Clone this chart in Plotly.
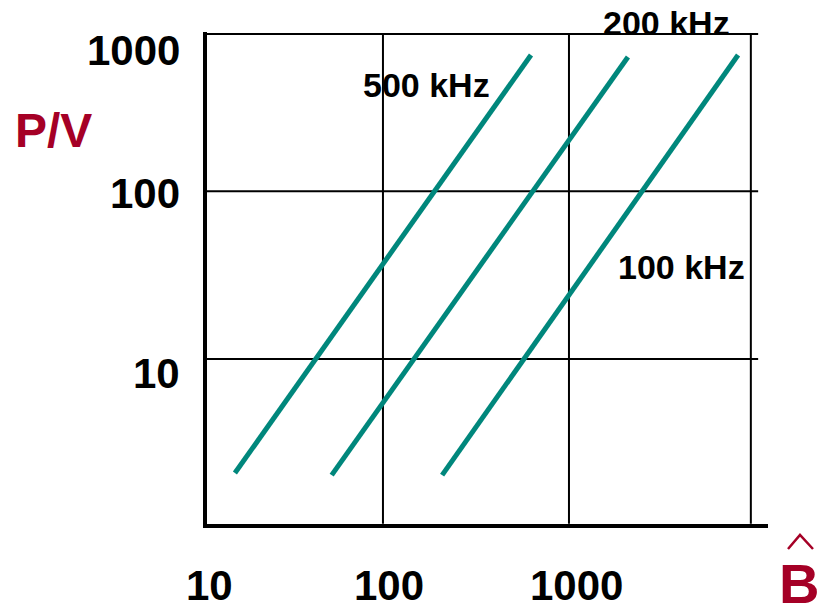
import plotly.graph_objects as go

# ---- data ----
SERIES_NAMES = ["500 kHz", "200 kHz", "100 kHz"]
B_500 = [16, 625]
PV_500 = [2.09, 650]
B_200 = [53, 2075]
PV_200 = [2.03, 632]
B_100 = [208, 8110]
PV_100 = [2.03, 650]

X_TICK_LABELS = ["10", "100", "1000"]
Y_TICK_LABELS = ["1000", "100", "10"]
X_GRID = [100, 1000, 9500]
Y_GRID = [10, 100, 867]
X_AXIS_TITLE = "B"
Y_AXIS_TITLE = "P/V"

TEAL = "#00877C"
RED = "#A50026"
FONT = "Liberation Sans, Arial, sans-serif"

W, H = 819, 607
L, R, T, B = 207, 51, 32, 83
PW, PH = W - L - R, H - T - B


def px(x, y):
    return (x - L) / PW, (H - B - y) / PH


fig = go.Figure()

# grid lines
gx, gy = [], []
for v in X_GRID:
    gx += [v, v, None]
    gy += [1.04, 867, None]
for v in Y_GRID:
    gx += [10.6, 10400, None]
    gy += [v, v, None]
fig.add_trace(go.Scatter(x=gx, y=gy, mode="lines",
                         line=dict(color="black", width=2),
                         hoverinfo="skip", showlegend=False))

for name, xs, ys in [(SERIES_NAMES[0], B_500, PV_500),
                     (SERIES_NAMES[1], B_200, PV_200),
                     (SERIES_NAMES[2], B_100, PV_100)]:
    fig.add_trace(go.Scatter(x=xs, y=ys, mode="lines", name=name,
                             line=dict(color=TEAL, width=5),
                             showlegend=False))

ann = []


def add_text(text, x, y, size, color="black", xanchor="center", weight="bold"):
    xp, yp = px(x, y)
    ann.append(dict(text=text, x=xp, y=yp, xref="paper", yref="paper",
                    xanchor=xanchor, yanchor="middle", showarrow=False,
                    font=dict(family=FONT, size=size, color=color, weight=weight)))


# x tick labels
for t, cx in zip(X_TICK_LABELS, [209, 389, 576]):
    add_text(t, cx, 585, 42)
# y tick labels
for t, cy in zip(Y_TICK_LABELS, [51, 193, 373]):
    add_text(t, 182, cy, 42, xanchor="right")

# series labels
add_text(SERIES_NAMES[0], 426, 85, 34)
add_text(SERIES_NAMES[1], 666, 23, 34)
add_text(SERIES_NAMES[2], 681, 267, 34)

# axis titles
add_text(Y_AXIS_TITLE, 53, 130, 48, color=RED)
add_text(X_AXIS_TITLE, 799, 583, 56, color=RED)

# hat over B
h0 = px(788, 549)
h1 = px(800, 535)
h2 = px(813, 549)
hat = dict(type="path", xref="paper", yref="paper",
           path=f"M {h0[0]},{h0[1]} L {h1[0]},{h1[1]} L {h2[0]},{h2[1]}",
           line=dict(color=RED, width=2.5))

fig.update_layout(
    width=W, height=H,
    margin=dict(l=L, r=R, t=T, b=B, pad=0),
    paper_bgcolor="white", plot_bgcolor="white",
    showlegend=False,
    annotations=ann,
    shapes=[hat],
    xaxis=dict(type="log", range=[1.054, 4.07], showgrid=False, zeroline=False,
               showticklabels=False, ticks="", showline=True,
               linecolor="black", linewidth=4),
    yaxis=dict(type="log", range=[0.016, 2.95], showgrid=False, zeroline=False,
               showticklabels=False, ticks="", showline=True,
               linecolor="black", linewidth=4),
)

fig.write_html("out.html",
               config={"displayModeBar": False},
               post_script="document.body.style.margin='0';"
                           "document.body.style.overflow='hidden';"
                           "document.documentElement.style.overflow='hidden';")
